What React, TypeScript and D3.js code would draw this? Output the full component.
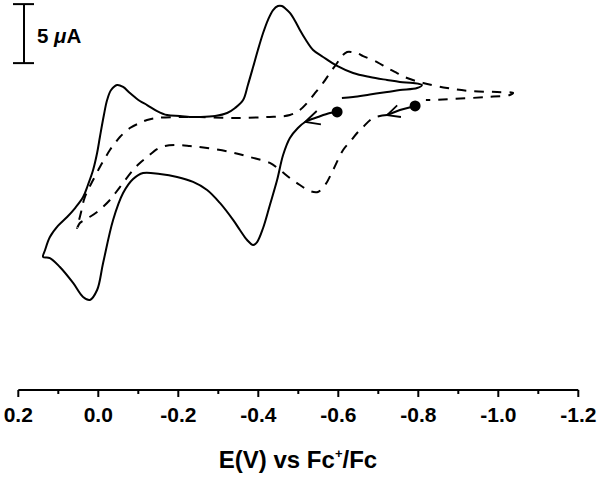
import React from "react";
import * as d3 from "d3";

// Solid CV trace (E in V vs Fc+/Fc, I in µA, arbitrary zero), in scan order
const E_SOLID = [-0.597, -0.579, -0.549, -0.517, -0.499, -0.479, -0.462, -0.447, -0.429, -0.412, -0.397, -0.387, -0.372, -0.354, -0.337, -0.304, -0.272, -0.237, -0.197, -0.154, -0.112, -0.087, -0.062, -0.037, -0.012, 0.003, 0.021, 0.038, 0.063, 0.096, 0.121, 0.138, 0.133, 0.121, 0.101, 0.078, 0.058, 0.038, 0.026, 0.013, 0.003, -0.004, -0.014, -0.022, -0.032, -0.047, -0.062, -0.079, -0.104, -0.122, -0.147, -0.172, -0.204, -0.237, -0.254, -0.292, -0.322, -0.342, -0.362, -0.374, -0.387, -0.399, -0.412, -0.424, -0.437, -0.449, -0.459, -0.469, -0.479, -0.492, -0.504, -0.519, -0.537, -0.562, -0.597, -0.637, -0.679, -0.722, -0.754, -0.787, -0.809, -0.797, -0.754, -0.722, -0.679, -0.637, -0.609];
const I_SOLID = [7.46, 7.37, 7.03, 6.61, 6.10, 5.25, 3.81, 1.69, -0.42, -2.37, -3.56, -3.81, -3.39, -2.54, -1.69, -0.25, 0.85, 1.53, 1.95, 2.20, 2.29, 1.78, 0.59, -1.69, -5.34, -7.63, -8.47, -8.22, -7.03, -5.68, -4.92, -4.83, -4.24, -3.14, -2.20, -1.44, -0.68, 0.25, 1.27, 2.54, 3.98, 5.34, 7.20, 8.47, 9.32, 9.75, 9.58, 9.07, 8.39, 8.05, 7.54, 7.20, 7.12, 7.03, 7.03, 7.12, 7.37, 7.80, 8.47, 9.75, 11.27, 12.71, 14.15, 15.25, 16.10, 16.44, 16.44, 16.19, 15.85, 15.17, 14.41, 13.56, 12.71, 12.12, 11.36, 10.76, 10.42, 10.17, 10.0, 9.92, 9.75, 9.49, 9.32, 9.15, 8.94, 8.73, 8.64];

// Dashed CV trace
const E_DASHED = [-0.792, -0.754, -0.722, -0.687, -0.662, -0.647, -0.629, -0.612, -0.587, -0.567, -0.549, -0.529, -0.504, -0.479, -0.454, -0.429, -0.379, -0.329, -0.272, -0.229, -0.197, -0.167, -0.147, -0.122, -0.104, -0.087, -0.054, -0.029, 0.003, 0.026, 0.046, 0.053, 0.048, 0.043, 0.036, 0.026, 0.013, -0.004, -0.017, -0.029, -0.042, -0.054, -0.079, -0.104, -0.122, -0.147, -0.197, -0.254, -0.337, -0.422, -0.479, -0.504, -0.522, -0.542, -0.562, -0.579, -0.597, -0.609, -0.622, -0.634, -0.647, -0.662, -0.697, -0.722, -0.747, -0.772, -0.812, -0.872, -0.929, -0.997, -1.037, -1.029, -0.972, -0.887, -0.837, -0.819];
const I_DASHED = [7.97, 7.63, 7.20, 6.95, 6.19, 5.68, 4.92, 4.24, 2.54, 1.27, 0.68, 0.76, 1.27, 1.86, 2.54, 3.14, 3.64, 4.07, 4.41, 4.58, 4.66, 4.58, 4.32, 3.64, 3.14, 2.54, 1.10, 0.0, -1.02, -1.53, -1.95, -2.37, -1.69, -1.02, 0.0, 0.85, 1.69, 2.80, 3.56, 4.24, 4.83, 5.34, 6.10, 6.53, 6.78, 6.95, 7.03, 7.03, 6.95, 7.03, 7.20, 7.63, 8.22, 9.07, 9.92, 10.76, 11.61, 12.20, 12.54, 12.54, 12.46, 12.20, 11.69, 11.19, 10.76, 10.34, 9.92, 9.49, 9.24, 9.15, 9.07, 8.90, 8.73, 8.56, 8.47, 8.47];

// Index of arrow tip (start-of-scan arrow) along each trace
const SOLID_ARROW_INDEX = 3;
const DASHED_ARROW_INDEX = 2;

const MAJOR_TICKS = [0.2, 0.0, -0.2, -0.4, -0.6, -0.8, -1.0, -1.2];
const TICK_LABELS = ["0.2", "0.0", "-0.2", "-0.4", "-0.6", "-0.8", "-1.0", "-1.2"];
const MINOR_TICKS = [0.1, -0.1, -0.3, -0.5, -0.7, -0.9, -1.1];

const SCALE_BAR_BASE = 11.6; // µA
const SCALE_BAR_LEN = 5; // µA
const SCALE_BAR_LABEL = "5 ";
const SCALE_BAR_UNIT_MU = "\u03BC";
const SCALE_BAR_UNIT = "A";

const X_TITLE_A = "E(V) vs Fc";
const X_TITLE_SUP = "+";
const X_TITLE_B = "/Fc";

const W = 600;
const H = 477;
const FONT = "'Liberation Sans', Arial, Helvetica, sans-serif";

export default function App() {
  const x = d3.scaleLinear().domain([0.2, -1.2]).range([18.3, 578.3]);
  const y = d3.scaleLinear().domain([-10, 15]).range([318, 23]);
  const axisY = 390;

  const solid = E_SOLID.map((e, i) => [e, I_SOLID[i]] as [number, number]);
  const dashed = E_DASHED.map((e, i) => [e, I_DASHED[i]] as [number, number]);

  const line = d3
    .line<[number, number]>()
    .x((d) => x(d[0]))
    .y((d) => y(d[1]))
    .curve(d3.curveCatmullRom.alpha(0.5));

  const straight = d3
    .line<[number, number]>()
    .x((d) => x(d[0]))
    .y((d) => y(d[1]));

  const arrowHead = (from: [number, number], tip: [number, number], len: number) => {
    const fx = x(from[0]);
    const fy = y(from[1]);
    const tx = x(tip[0]);
    const ty = y(tip[1]);
    const ang = Math.atan2(fy - ty, fx - tx);
    const a = (26 * Math.PI) / 180;
    const p1 = [tx + len * Math.cos(ang + a), ty + len * Math.sin(ang + a)];
    const p2 = [tx + len * Math.cos(ang - a), ty + len * Math.sin(ang - a)];
    return `M${p1[0]},${p1[1]}L${tx},${ty}L${p2[0]},${p2[1]}`;
  };

  const sb0 = y(SCALE_BAR_BASE);
  const sb1 = y(SCALE_BAR_BASE + SCALE_BAR_LEN);
  const sbx = 24;

  return (
    <svg
      width={W}
      height={H}
      style={{ position: "absolute", left: 0, top: 0, background: "#fff" }}
      fontFamily={FONT}
    >
      {/* scale bar */}
      <g stroke="#000" strokeWidth={2}>
        <line x1={sbx} x2={sbx} y1={sb0} y2={sb1} />
        <line x1={sbx - 11} x2={sbx + 10} y1={sb0} y2={sb0} />
        <line x1={sbx - 11} x2={sbx + 10} y1={sb1} y2={sb1} />
      </g>
      <text x={37} y={43} fontSize={20.5} fontWeight="bold" fill="#000">
        {SCALE_BAR_LABEL}
        <tspan fontStyle="italic">{SCALE_BAR_UNIT_MU}</tspan>
        {SCALE_BAR_UNIT}
      </text>

      {/* curves */}
      <path d={line(solid) || ""} fill="none" stroke="#000" strokeWidth={2} strokeLinejoin="round" />
      <path
        d={straight(dashed.slice(0, DASHED_ARROW_INDEX + 1)) || ""}
        fill="none"
        stroke="#000"
        strokeWidth={2}
      />
      <path
        d={line(dashed.slice(DASHED_ARROW_INDEX)) || ""}
        fill="none"
        stroke="#000"
        strokeWidth={2}
        strokeDasharray="9.5,8"
      />

      {/* start markers and arrows */}
      <circle cx={x(solid[0][0])} cy={y(solid[0][1])} r={5.5} fill="#000" />
      <circle cx={x(dashed[0][0])} cy={y(dashed[0][1])} r={5.5} fill="#000" />
      <path
        d={arrowHead(solid[0], solid[SOLID_ARROW_INDEX], 16)}
        fill="none"
        stroke="#000"
        strokeWidth={1.8}
      />
      <path
        d={arrowHead(dashed[0], dashed[DASHED_ARROW_INDEX], 14)}
        fill="none"
        stroke="#000"
        strokeWidth={1.8}
      />

      {/* x axis */}
      <line x1={x(0.2)} x2={x(-1.2)} y1={axisY} y2={axisY} stroke="#000" strokeWidth={2} />
      {MAJOR_TICKS.map((t) => (
        <line key={"M" + t} x1={x(t)} x2={x(t)} y1={axisY} y2={axisY + 7} stroke="#000" strokeWidth={2} />
      ))}
      {MINOR_TICKS.map((t) => (
        <line key={"m" + t} x1={x(t)} x2={x(t)} y1={axisY} y2={axisY + 4} stroke="#000" strokeWidth={2} />
      ))}
      {MAJOR_TICKS.map((t, i) => (
        <text
          key={"L" + t}
          x={x(t)}
          y={422}
          textAnchor="middle"
          fontSize={21}
          fontWeight="bold"
          fill="#000"
        >
          {TICK_LABELS[i]}
        </text>
      ))}
      <text x={298} y={468} textAnchor="middle" fontSize={24} fontWeight="bold" fill="#000">
        {X_TITLE_A}
        <tspan fontSize={13} dy={-10}>
          {X_TITLE_SUP}
        </tspan>
        <tspan dy={10}>{X_TITLE_B}</tspan>
      </text>
    </svg>
  );
}
